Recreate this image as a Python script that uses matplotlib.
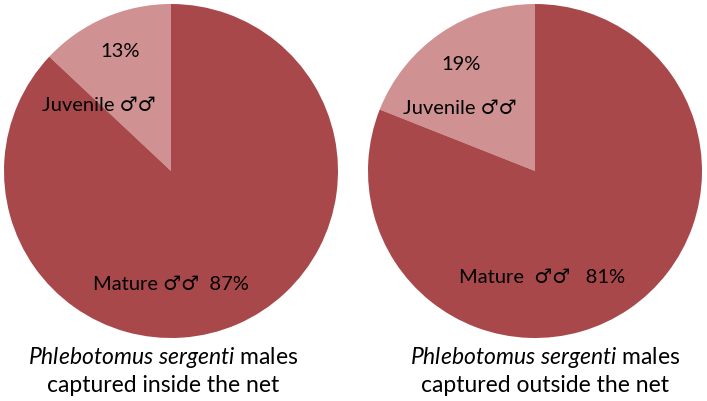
import matplotlib
matplotlib.use("Agg")
import matplotlib.pyplot as plt

# Data
groups = ["inside", "outside"]
labels = ["Juvenile", "Mature"]
inside_pct = [13, 87]
outside_pct = [19, 81]
colors = ["#D09192", "#A9484A"]

plt.rcParams['font.family'] = ['Lato', 'DejaVu Sans']
plt.rcParams['mathtext.fontset'] = 'custom'
plt.rcParams['mathtext.rm'] = 'Lato'
plt.rcParams['mathtext.it'] = 'Lato:italic'

W, H = 707, 401
fig = plt.figure(figsize=(W / 100, H / 100), dpi=100)


def px_axes(cx, cy, r):
    return [(cx - r) / W, (H - cy - r) / H, 2 * r / W, 2 * r / H]


def draw_pie(rect, values, pct_pos, juv_pos, mat_pos, mat_text):
    ax = fig.add_axes(rect)
    ax.pie(values, colors=colors, startangle=90, counterclock=True,
           radius=1, wedgeprops=dict(linewidth=0))
    ax.set_xlim(-1, 1)
    ax.set_ylim(-1, 1)
    ax.set_aspect('equal')
    ax.axis('off')
    ax.text(*pct_pos, f"{values[0]}%", ha='center', va='center', fontsize=14.5)
    ax.text(*juv_pos, "Juvenile \u2642\u2642", ha='center', va='center',
            fontsize=14.5)
    ax.text(*mat_pos, mat_text, ha='center', va='center', fontsize=14.5)
    return ax


draw_pie(px_axes(171, 171, 167), inside_pct,
         (-0.305, 0.713), (-0.43, 0.39), (0.0, -0.68),
         f"Mature \u2642\u2642  {inside_pct[1]}%")
draw_pie(px_axes(535, 171, 167), outside_pct,
         (-0.44, 0.635), (-0.45, 0.377), (0.04, -0.635),
         f"Mature  \u2642\u2642   {outside_pct[1]}%")

# Captions
for cx, where in [(163, "inside"), (545, "outside")]:
    fig.text(cx / W, 1 - 358 / H, r"$\mathit{Phlebotomus\ sergenti}$ males",
             ha='center', va='center', fontsize=16.5)
    fig.text(cx / W, 1 - 386 / H, f"captured {where} the net",
             ha='center', va='center', fontsize=16.5)

fig.savefig("out.png", dpi=100)
